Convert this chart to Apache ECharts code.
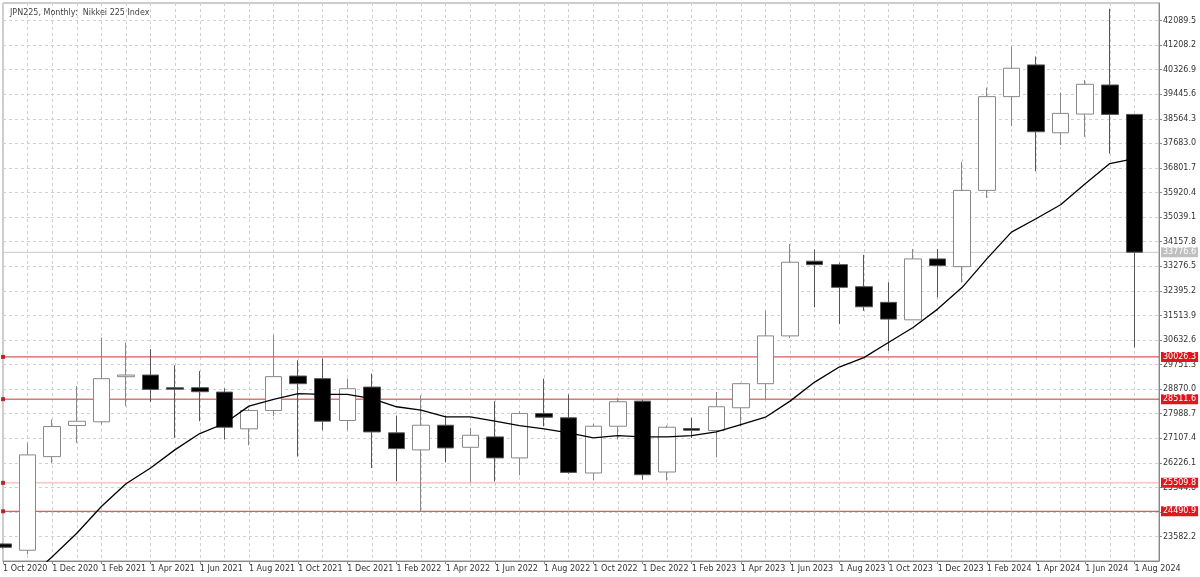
<!DOCTYPE html>
<html>
<head>
<meta charset="utf-8">
<title>JPN225 Monthly</title>
<script src="https://cdn.jsdelivr.net/npm/echarts@6/dist/echarts.min.js"></script>
<style>html,body{margin:0;padding:0;background:#fff}</style>
</head>
<body>
<div id="main" style="width:1200px;height:577px;"></div>
<script type="text/javascript">
var months = ['1 Oct 2020','1 Nov 2020','1 Dec 2020','1 Jan 2021','1 Feb 2021','1 Mar 2021','1 Apr 2021','1 May 2021','1 Jun 2021','1 Jul 2021','1 Aug 2021','1 Sep 2021',
  '1 Oct 2021','1 Nov 2021','1 Dec 2021','1 Jan 2022','1 Feb 2022','1 Mar 2022','1 Apr 2022','1 May 2022','1 Jun 2022','1 Jul 2022','1 Aug 2022','1 Sep 2022',
  '1 Oct 2022','1 Nov 2022','1 Dec 2022','1 Jan 2023','1 Feb 2023','1 Mar 2023','1 Apr 2023','1 May 2023','1 Jun 2023','1 Jul 2023','1 Aug 2023','1 Sep 2023',
  '1 Oct 2023','1 Nov 2023','1 Dec 2023','1 Jan 2024','1 Feb 2024','1 Mar 2024','1 Apr 2024','1 May 2024','1 Jun 2024','1 Jul 2024','1 Aug 2024',''];

// open, close, low, high
var ohlc = [
  [23320,23200,23150,23350],[23093,26512,22950,26943],[26450,27530,26224,27782],[27566,27720,26943,28981],
  [27700,29247,27600,30723],[29318,29376,28261,30543],[29376,28862,28405,30302],[28920,28870,27124,29725],
  [28923,28779,27721,29520],[28765,27505,27062,28900],[27448,28106,26857,28167],[28106,29319,27900,30806],
  [29341,29067,26450,29905],[29247,27721,27397,29966],[27746,28887,27397,29247],[28945,27337,26044,29427],
  [27303,26738,25562,27926],[26692,27577,24482,28646],[27577,26763,26245,27926],[26785,27217,25525,27483],
  [27159,26404,25562,28441],[26404,27999,25778,28081],[27999,27865,27541,29247],[27843,25885,25840,28682],
  [25864,27541,25597,27620],[27541,28419,27062,28563],[28441,25802,25623,28477],[25900,27505,25597,27566],
  [27458,27397,27124,27843],[27386,28239,26425,28765],[28203,29067,27541,29100],[29067,30780,28502,31680],
  [30780,33422,30700,34073],[33458,33336,31802,33876],[33336,32522,31201,33400],[32544,31824,31680,33684],
  [31983,31382,30240,32702],[31356,33541,31356,33900],[33541,33300,32163,33900],[33264,35999,32702,37020],
  [35999,39360,35725,39684],[39360,40378,38303,41160],[40498,38101,36683,40800],[38064,38759,37624,39505],
  [38735,39802,37920,39958],[39778,38723,37319,42513],[38723,33782,30363,38723]
];

var ma = [null,22050,22862,23704,24662,25479,26044,26702,27278,27638,28261,28502,
  28707,28682,28682,28527,28239,28117,27879,27879,27721,27566,27448,27303,
  27124,27206,27160,27160,27206,27340,27602,27865,28441,29124,29664,30003,
  30543,31082,31741,32522,33541,34502,34980,35484,36240,36960,37140];

var yTicks = [23582.2,24463.5,25344.8,26226.1,27107.4,27988.7,28870.0,29751.3,30632.6,31513.9,32395.2,
  33276.5,34157.8,35039.1,35920.4,36801.7,37683.0,38564.3,39445.6,40326.9,41208.2,42089.5];

var levels = [30026.3, 28511.6, 25509.8, 24490.9];
var lastPrice = 33776.6;

var myChart = echarts.init(document.getElementById('main'));

function levelSeries(v, lineColor, labelColor) {
  return {
    type: 'line',
    data: months.map(function () { return v; }),
    showSymbol: false,
    silent: true,
    z: 1,
    lineStyle: { color: lineColor, width: 1 },
    markLine: {
      symbol: 'none',
      silent: true,
      z: 10,
      lineStyle: { color: 'rgba(0,0,0,0)', width: 1 },
      label: { position: 'end', distance: 2, fontSize: 8, padding: [1, 2], fontFamily: 'DejaVu Sans',
        formatter: v.toFixed(1), backgroundColor: labelColor, color: '#fff' },
      data: [{ yAxis: v }]
    }
  };
}

var series = [
  {
    name: 'JPN225',
    type: 'candlestick',
    data: ohlc,
    barWidth: 17,
    z: 3,
    itemStyle: { color: '#fff', color0: '#000', borderColor: '#888', borderColor0: '#555', borderWidth: 1 }
  },
  {
    name: 'MA',
    type: 'line',
    data: ma,
    showSymbol: false,
    lineStyle: { color: '#000', width: 1.3 },
    z: 5
  },
  {
    name: 'marks',
    type: 'scatter',
    symbol: 'rect',
    symbolSize: 4,
    itemStyle: { color: '#b00000' },
    data: levels.map(function (v) { return [0, v]; })
  }
];
levels.forEach(function (v, i) {
  series.push(levelSeries(v, i == 2 ? '#f2a8a8' : '#cc3333', '#e0161e'));
});
series.push(levelSeries(lastPrice, '#c8c8c8', '#c0c0c0'));

option = {
  animation: false,
  backgroundColor: '#fff',
  title: {
    text: 'JPN225, Monthly:  Nikkei 225 Index',
    left: 5, top: 4,
    textStyle: { fontSize: 8, fontWeight: 'normal', color: '#444', fontFamily: 'DejaVu Sans' }
  },
  grid: { left: 3, right: 41, top: 3, bottom: 16, show: true, borderColor: '#999', borderWidth: 1 },
  xAxis: {
    type: 'category',
    data: months,
    boundaryGap: false,
    axisLine: { lineStyle: { color: '#888' } },
    axisTick: { interval: 1, length: 3, lineStyle: { color: '#888' } },
    axisLabel: { interval: 1, align: 'left', margin: 4, fontSize: 8, color: '#333', fontFamily: 'DejaVu Sans' },
    splitLine: { show: true, interval: 0, lineStyle: { color: '#d0d0d0', type: [3, 3] } }
  },
  yAxis: {
    type: 'value',
    position: 'right',
    min: 22708,
    max: 42718,
    axisLine: { show: true, lineStyle: { color: '#888' } },
    axisTick: { show: true, length: 3, customValues: yTicks, lineStyle: { color: '#888' } },
    axisLabel: {
      customValues: yTicks, margin: 4, fontSize: 8, color: '#333', fontFamily: 'DejaVu Sans',
      formatter: function (v) { return v.toFixed(1); }
    },
    splitLine: { show: true, lineStyle: { color: '#d0d0d0', type: [3, 3] } }
  },
  series: series
};
myChart.setOption(option);
window.onresize = function () { myChart.resize(); };
</script>
</body>
</html>
